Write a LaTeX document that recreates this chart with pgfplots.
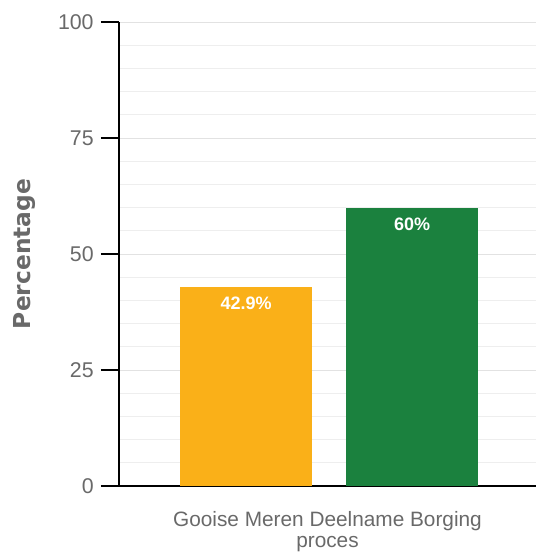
\documentclass[border=0pt]{standalone}
\usepackage{fontspec}
\setmainfont{Liberation Sans}
\newfontfamily\djv{DejaVu Sans}
\usepackage{pgfplots}
\pgfplotsset{compat=1.18}
\definecolor{barorange}{RGB}{250,176,24}
\definecolor{bargreen}{RGB}{27,129,62}
\definecolor{ticktext}{RGB}{105,105,105}
\definecolor{minorgrid}{RGB}{238,238,238}
\definecolor{majorgrid}{RGB}{226,226,226}
\begin{document}
\begin{tikzpicture}
\path[use as bounding box] (-89.25pt,-49.5pt) rectangle (312.75pt,364.5pt);
\begin{axis}[
  at={(0pt,0pt)}, anchor=south west,
  scale only axis,
  width=312.75pt, height=348pt,
  xmin=0, xmax=1, ymin=0, ymax=100,
  axis x line*=bottom, axis y line*=left,
  axis line style={black, line width=0.9pt},
  ytick={0,25,50,75,100},
  minor ytick={5,10,15,20,30,35,40,45,55,60,65,70,80,85,90,95},
  ymajorgrids, yminorgrids,
  major grid style={majorgrid, line width=0.7pt},
  minor grid style={minorgrid, line width=0.7pt},
  minor tick length=0pt,
  major tick length=13.5pt,
  tick align=outside,
  ytick style={black, line width=0.9pt},
  xtick={0.5},
  xticklabels={Gooise Meren Deelname Borging\\ proces},
  x tick style={draw=none},
  xticklabel style={align=center, font=\fontsize{15.6}{15.5}\selectfont, text=ticktext, yshift=-2pt},
  yticklabel style={font=\fontsize{16}{18}\selectfont, text=ticktext, xshift=-2pt},
  /pgf/number format/assume math mode=true,
  ylabel={\djv\bfseries Percentage},
  every axis y label/.style={at={(rel axis cs:0,0.5)}, anchor=center, rotate=90, yshift=71pt, font=\fontsize{17.5}{20}\selectfont, text=ticktext},
  ybar, bar width=0.317,
  nodes near coords={\pgfmathprintnumber{\pgfplotspointmeta}\%},
  every node near coord/.append style={anchor=north, yshift=-4pt, text=white, font=\bfseries\fontsize{13.5}{15}\selectfont},
  clip=false,
]
\addplot[fill=barorange, draw=none, bar shift=0pt] coordinates {(0.305,42.9)};
\addplot[fill=bargreen, draw=none, bar shift=0pt] coordinates {(0.703,60)};
\end{axis}
\end{tikzpicture}
\end{document}
